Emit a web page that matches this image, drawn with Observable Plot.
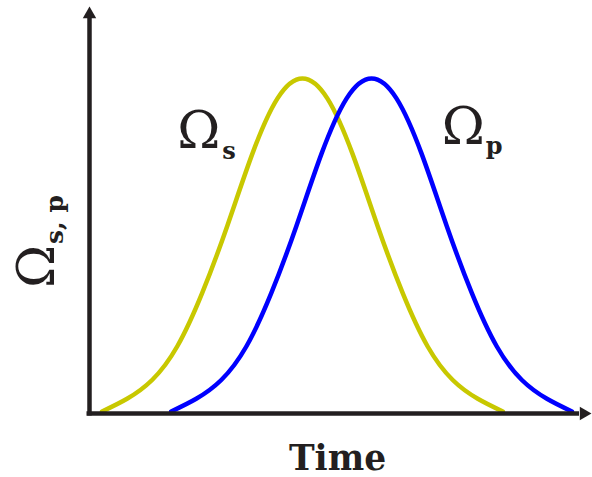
<!DOCTYPE html>
<html>
<head>
<meta charset="utf-8">
<script src="https://cdn.jsdelivr.net/npm/d3@7"></script>
<script src="https://cdn.jsdelivr.net/npm/@observablehq/plot@0.6"></script>
<style>
  html, body { margin: 0; padding: 0; background: #ffffff; }
  #chart svg { display: block; }
</style>
</head>
<body>
<div id="chart"></div>
<script>
// Time axis runs 0..100, amplitude normalised so that the pulse peak = 1
const stokesTime  = [2.5, 7.5, 12.5, 17.5, 22.5, 27.5, 32.5, 37.5, 42.5, 47.5, 52.5, 57.5, 62.5, 67.5, 72.5, 77.5, 82.5];
const stokesValue = [0.006, 0.044, 0.10, 0.20, 0.36, 0.56, 0.775, 0.94, 1.0, 0.94, 0.775, 0.56, 0.36, 0.20, 0.10, 0.044, 0.006];

const pumpTime  = [16.3, 21.3, 26.3, 31.3, 36.3, 41.3, 46.3, 51.3, 56.3, 61.3, 66.3, 71.3, 76.3, 81.3, 86.3, 91.3, 96.3];
const pumpValue = [0.006, 0.044, 0.10, 0.20, 0.36, 0.56, 0.775, 0.94, 1.0, 0.94, 0.775, 0.56, 0.36, 0.20, 0.10, 0.044, 0.006];

const seriesNames = ["Ω_s", "Ω_p"];
const xLabel = "Time";
const yLabelMain = "Ω";
const yLabelSub = "s, p";

const stokes = stokesTime.map((t, i) => ({t, v: stokesValue[i]}));
const pump = pumpTime.map((t, i) => ({t, v: pumpValue[i]}));

const INK = "#231f20";
const YELLOW = "#c8c800";
const BLUE = "#0000ff";
const SERIF = "DejaVu Serif, serif";

const chart = Plot.plot({
  width: 592,
  height: 477,
  marginLeft: 89,
  marginRight: 2,
  marginTop: 6,
  marginBottom: 64,
  x: {domain: [0, 100], axis: null},
  y: {domain: [0, 1.215], axis: null},
  style: {background: "#ffffff", overflow: "visible"},
  marks: [
    Plot.line(stokes, {x: "t", y: "v", stroke: YELLOW, strokeWidth: 4.5, curve: "natural"}),
    Plot.line(pump, {x: "t", y: "v", stroke: BLUE, strokeWidth: 4.5, curve: "natural"}),
    // axes with arrow heads
    Plot.ruleY([0], {stroke: INK, strokeWidth: 4.5, insetLeft: -2.5, insetRight: 11}),
    Plot.ruleX([0], {stroke: INK, strokeWidth: 4.5, insetTop: 11, insetBottom: -2.5}),
    Plot.dot([0], {x: 0, y: 1.215, symbol: "triangle", r: 5, fill: INK, stroke: "none", dy: 7.8}),
    Plot.dot([0], {x: 100, y: 0, symbol: "triangle", r: 5, fill: INK, stroke: "none", rotate: 90, dx: -6.8}),
    // curve labels
    Plot.text([seriesNames[0]], {x: 17.5, y: 0.794, text: () => "Ω", textAnchor: "start", lineAnchor: "bottom", fontSize: 52, fontFamily: SERIF, fill: INK}),
    Plot.text([seriesNames[0]], {x: 17.5, y: 0.794, text: () => "s", textAnchor: "start", lineAnchor: "bottom", fontSize: 24, fontWeight: "bold", fontFamily: SERIF, fill: INK, dx: 45, dy: 11}),
    Plot.text([seriesNames[1]], {x: 70.3, y: 0.806, text: () => "Ω", textAnchor: "start", lineAnchor: "bottom", fontSize: 52, fontFamily: SERIF, fill: INK}),
    Plot.text([seriesNames[1]], {x: 70.3, y: 0.806, text: () => "p", textAnchor: "start", lineAnchor: "bottom", fontSize: 24, fontWeight: "bold", fontFamily: SERIF, fill: INK, dx: 44, dy: 10}),
    // axis titles
    Plot.text([xLabel], {frameAnchor: "bottom", text: d => d, lineAnchor: "bottom", dy: 56, dx: -2.5, fontSize: 34.5, fontWeight: "bold", fontFamily: SERIF, fill: INK}),
    Plot.text([yLabelMain], {frameAnchor: "left", text: d => d, rotate: -90, textAnchor: "start", lineAnchor: "bottom", dx: -36, dy: 78, fontSize: 52, fontFamily: SERIF, fill: INK}),
    Plot.text([yLabelSub], {frameAnchor: "left", text: d => d, rotate: -90, textAnchor: "start", lineAnchor: "bottom", dx: -27, dy: 34, fontSize: 25, fontWeight: "bold", fontFamily: SERIF, fill: INK})
  ]
});
document.getElementById("chart").appendChild(chart);
</script>
</body>
</html>
